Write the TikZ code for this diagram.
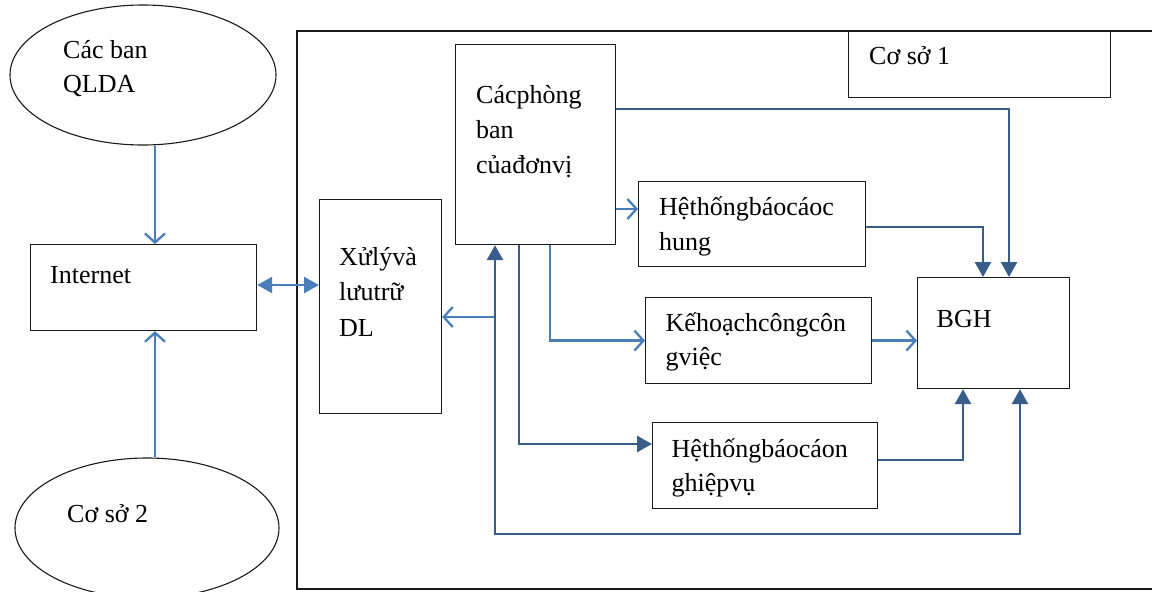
\documentclass[tikz,border=0pt]{standalone}
\usepackage{fontspec}
\setmainfont{Liberation Serif}
\usetikzlibrary{arrows.meta,shapes.geometric}
\definecolor{lightb}{RGB}{74,126,187}
\definecolor{darkb}{RGB}{56,93,138}
\tikzset{
  box/.style={draw=black!90, line width=1.2pt, rectangle, inner sep=0pt, anchor=north west},
  oval/.style={draw=black!90, line width=1.1pt, ellipse, inner sep=0pt},
  lbl/.style={anchor=base west, inner sep=0pt, font=\fontsize{26pt}{34pt}\selectfont},
  lightline/.style={draw=lightb, line width=2.3pt},
  darkline/.style={draw=darkb, line width=2.6pt},
  barb/.style={-{Straight Barb[length=9pt,width=20pt,line width=2.3pt]}},
  tri/.style={-{Triangle[length=15pt,width=16pt]}},
  tritri/.style={{Triangle[length=15pt,width=16pt]}-{Triangle[length=15pt,width=16pt]}},
}
\begin{document}
\begin{tikzpicture}[x=1pt,y=-1pt]
\useasboundingbox (0,0) rectangle (1152,592);
\fill[white] (0,0) rectangle (1152,592);
% frame of Co so 1
\draw[line width=1.2pt, draw=black!90] (1153,31) -- (297,31) -- (297,589) -- (1153,589);
% ellipses
\node[oval, minimum width=266pt, minimum height=140pt] (qlda) at (143,75) {};
\node[oval, minimum width=264pt, minimum height=140pt] (cs2) at (147,528) {};
% boxes
\node[box, minimum width=226pt, minimum height=86pt] (inet) at (30,244) {};
\node[box, minimum width=122pt, minimum height=214pt] (xl) at (319,199) {};
\node[box, minimum width=160pt, minimum height=200pt] (cpb) at (455,44) {};
\node[box, minimum width=262pt, minimum height=67pt] (cs1) at (848,30) {};
\node[box, minimum width=227pt, minimum height=85pt] (htc) at (638,181) {};
\node[box, minimum width=226pt, minimum height=86pt] (kh) at (645,297) {};
\node[box, minimum width=225pt, minimum height=86pt] (htn) at (652,422) {};
\node[box, minimum width=152pt, minimum height=111pt] (bgh) at (917,277) {};
% labels
\node[lbl] (t1a) at (63,58.5) {Các ban};
\node[lbl] (t1b) at (63,92.5) {QLDA};
\node[lbl] (t2) at (50,283) {Internet};
\node[lbl] (t3) at (67,522.5) {Cơ sở 2};
\node[lbl] (t4a) at (339,265) {Xửlývà};
\node[lbl] (t4b) at (339,300) {lưutrữ};
\node[lbl] (t4c) at (339,336) {DL};
\node[lbl] (t5a) at (476,103) {Cácphòng};
\node[lbl] (t5b) at (476,138) {ban};
\node[lbl] (t5c) at (476,173) {củađơnvị};
\node[lbl] (t6) at (869,64) {Cơ sở 1};
\node[lbl] (t7a) at (659,215) {Hệthốngbáocáoc};
\node[lbl] (t7b) at (659,250) {hung};
\node[lbl] (t8a) at (665.5,331) {Kếhoạchcôngcôn};
\node[lbl] (t8b) at (665.5,365) {gviệc};
\node[lbl] (t9a) at (671.5,457) {Hệthốngbáocáon};
\node[lbl] (t9b) at (671.5,491) {ghiệpvụ};
\node[lbl] (t10) at (936.5,327) {BGH};
% coordinates
\coordinate (j) at (495,317);
\coordinate (lb) at (495,534);
% connectors
\draw[lightline, barb] (qlda.south -| 155,0) -- (inet.north -| 155,0);
\draw[lightline, barb] (cs2.north -| 155,0) -- (inet.south -| 155,0);
\draw[lightline, tritri] (inet.east |- 0,285) -- (xl.west |- 0,285);
\draw[lightline, barb] (j) -- (xl.east |- j);
\draw[lightline, barb] (cpb.east |- 0,209) -- (htc.west |- 0,209);
\draw[lightline, barb] (cpb.south -| 550,0) |- (kh.west);
\draw[lightline, barb] (kh.east) -- (bgh.west |- kh.east);
\draw[darkline, tri] (cpb.south -| 519,0) |- (htn.west |- 0,444);
\draw[darkline, tri] (htn.east |- 0,460) -| (bgh.south -| 963,0);
\draw[darkline, tritri] (cpb.south -| 495,0) -- (lb) -| (bgh.south -| 1020,0);
\draw[darkline, tri] (cpb.east |- 0,109) -| (bgh.north -| 1009,0);
\draw[darkline, tri] (htc.east |- 0,227) -| (bgh.north -| 983,0);
\end{tikzpicture}
\end{document}
